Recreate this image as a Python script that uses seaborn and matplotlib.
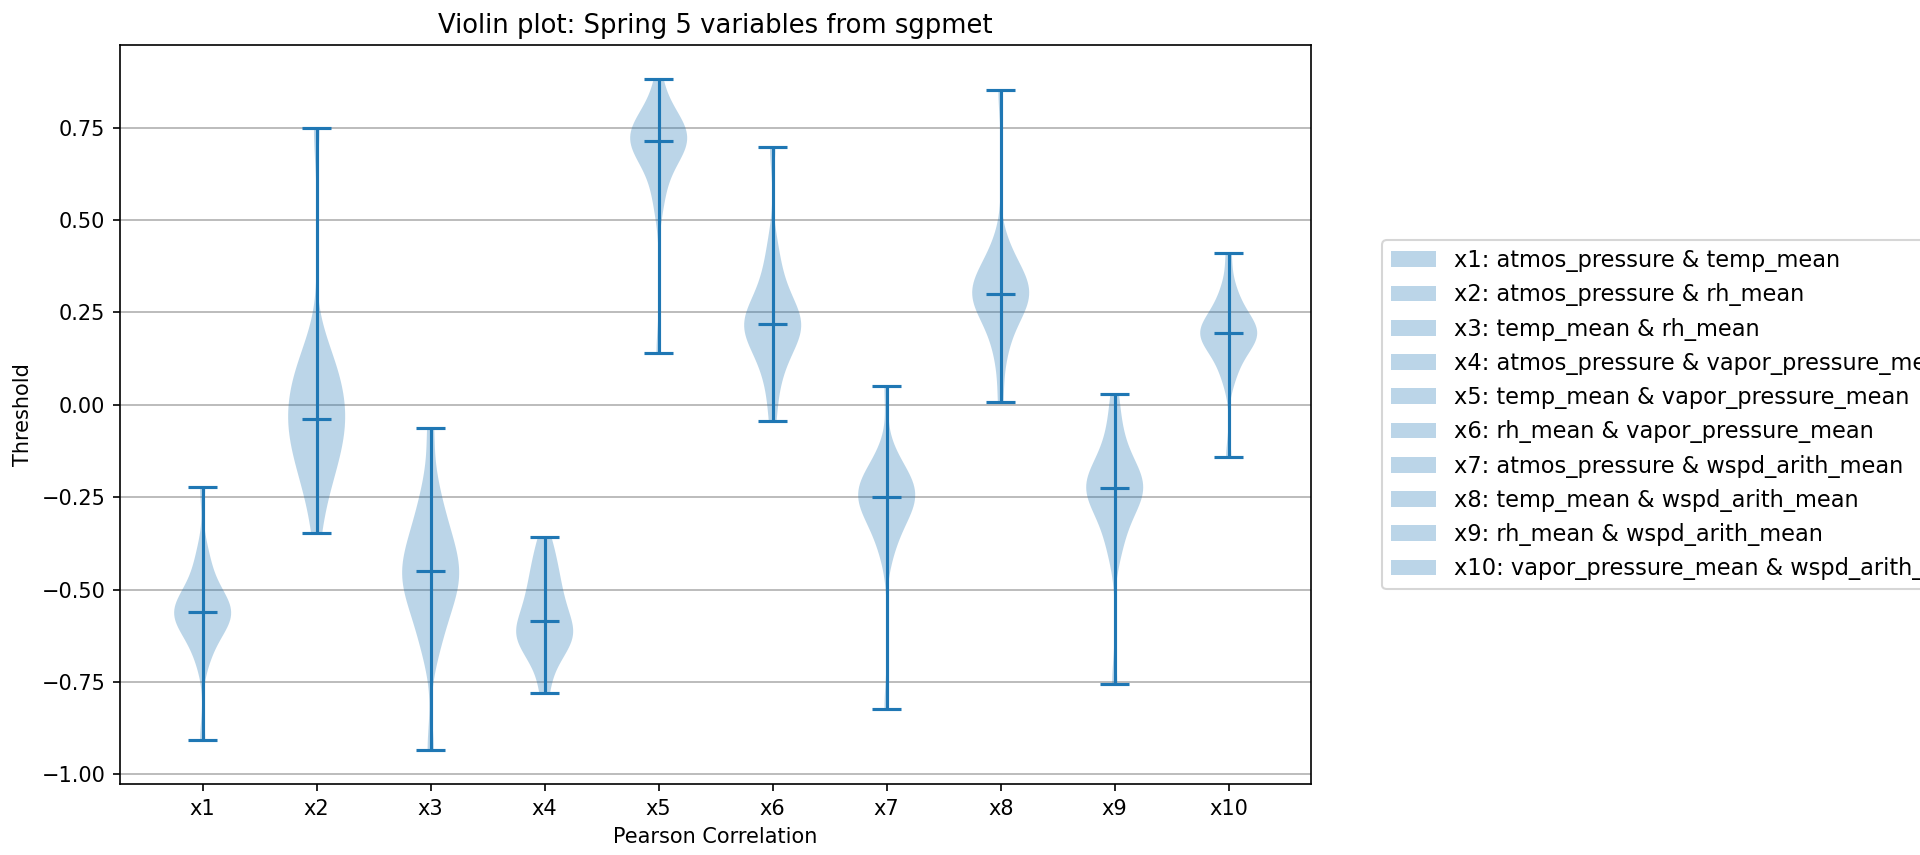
import numpy as np
import pandas as pd
import matplotlib
matplotlib.use("Agg")
import matplotlib.pyplot as plt
import seaborn as sns
from matplotlib.patches import Patch

# variable pairs shown on the x axis
pair_ids = ["x1", "x2", "x3", "x4", "x5", "x6", "x7", "x8", "x9", "x10"]
pair_names = [
    "atmos_pressure & temp_mean",
    "atmos_pressure & rh_mean",
    "temp_mean & rh_mean",
    "atmos_pressure & vapor_pressure_mean",
    "temp_mean & vapor_pressure_mean",
    "rh_mean & vapor_pressure_mean",
    "atmos_pressure & wspd_arith_mean",
    "temp_mean & wspd_arith_mean",
    "rh_mean & wspd_arith_mean",
    "vapor_pressure_mean & wspd_arith_mean",
]

# pearson correlation samples per pair
x1 = [-0.907, -0.70, -0.665, -0.635, -0.615, -0.60, -0.59, -0.58, -0.572, -0.566, -0.560,
      -0.554, -0.546, -0.536, -0.525, -0.51, -0.49, -0.465, -0.43, -0.39, -0.221]
x2 = [-0.346, -0.25, -0.21, -0.18, -0.155, -0.13, -0.105, -0.085, -0.068, -0.053, -0.039,
      -0.02, 0.0, 0.02, 0.04, 0.06, 0.08, 0.10, 0.13, 0.17, 0.749]
x3 = [-0.935, -0.68, -0.63, -0.59, -0.56, -0.535, -0.515, -0.495, -0.48, -0.465, -0.450,
      -0.435, -0.42, -0.40, -0.38, -0.355, -0.33, -0.30, -0.26, -0.20, -0.062]
x4 = [-0.780, -0.72, -0.69, -0.67, -0.655, -0.64, -0.63, -0.62, -0.61, -0.60, -0.585,
      -0.57, -0.555, -0.54, -0.52, -0.50, -0.48, -0.455, -0.43, -0.40, -0.3585]
x5 = [0.1406, 0.53, 0.58, 0.62, 0.65, 0.67, 0.685, 0.695, 0.703, 0.709, 0.714,
      0.72, 0.727, 0.735, 0.743, 0.752, 0.763, 0.776, 0.792, 0.815, 0.882]
x6 = [-0.043, 0.04, 0.09, 0.12, 0.145, 0.165, 0.18, 0.195, 0.205, 0.212, 0.219,
      0.226, 0.235, 0.25, 0.265, 0.285, 0.31, 0.34, 0.38, 0.44, 0.699]
x7 = [-0.823, -0.41, -0.37, -0.34, -0.318, -0.30, -0.285, -0.272, -0.262, -0.255, -0.248,
      -0.241, -0.234, -0.226, -0.218, -0.208, -0.195, -0.18, -0.16, -0.13, 0.052]
x8 = [0.007, 0.12, 0.17, 0.205, 0.23, 0.25, 0.265, 0.277, 0.286, 0.293, 0.299,
      0.306, 0.314, 0.323, 0.334, 0.347, 0.362, 0.38, 0.405, 0.44, 0.852]
x9 = [-0.754, -0.41, -0.365, -0.332, -0.303, -0.28, -0.262, -0.248, -0.238, -0.231, -0.225,
      -0.218, -0.21, -0.2, -0.188, -0.172, -0.152, -0.125, -0.09, -0.04, 0.029]
x10 = [-0.142, 0.06, 0.095, 0.12, 0.14, 0.155, 0.167, 0.176, 0.183, 0.189, 0.194,
       0.2, 0.207, 0.215, 0.225, 0.238, 0.253, 0.272, 0.295, 0.33, 0.411]

samples = [x1, x2, x3, x4, x5, x6, x7, x8, x9, x10]
color = "#1f77b4"

df = pd.DataFrame({
    "pair": np.repeat(pair_ids, [len(s) for s in samples]),
    "corr": np.concatenate(samples),
})

fig, ax = plt.subplots(figsize=(12.8, 5.7), dpi=150)
fig.subplots_adjust(left=0.0625, right=0.683, top=0.947, bottom=0.083)

sns.violinplot(data=df, x="pair", y="corr", order=pair_ids, inner=None, cut=0,
               density_norm="width", width=0.5, color=color, saturation=1,
               linewidth=0, bw_adjust=0.7, ax=ax)
for coll in ax.collections:
    coll.set_facecolor(color)
    coll.set_alpha(0.3)
    coll.set_edgecolor("none")

# extrema + median bars like matplotlib's violinplot
stats = df.groupby("pair", sort=False)["corr"].agg(["min", "max", "median"]).loc[pair_ids]
pos = np.arange(len(pair_ids))
ax.vlines(pos, stats["min"], stats["max"], color=color, lw=1.5)
for col in ["min", "max", "median"]:
    ax.hlines(stats[col], pos - 0.125, pos + 0.125, color=color, lw=1.5)

ax.set_xlim(-0.725, len(pair_ids) - 1 + 0.725)
ax.autoscale(axis="y")
ax.yaxis.grid(True, color="#b0b0b0", lw=0.8)
ax.xaxis.grid(False)
ax.set_axisbelow(True)
ax.set_xlabel("Pearson Correlation")
ax.set_ylabel("Threshold")
ax.set_title("Violin plot: Spring 5 variables from sgpmet", fontsize=12.4)

handles = [Patch(facecolor=color, alpha=0.3, label=f"{p}: {n}") for p, n in zip(pair_ids, pair_names)]
ax.legend(handles=handles, loc="center left", bbox_to_anchor=(1.05, 0.5), fontsize=10.8)

fig.savefig("out.png", dpi=150)
